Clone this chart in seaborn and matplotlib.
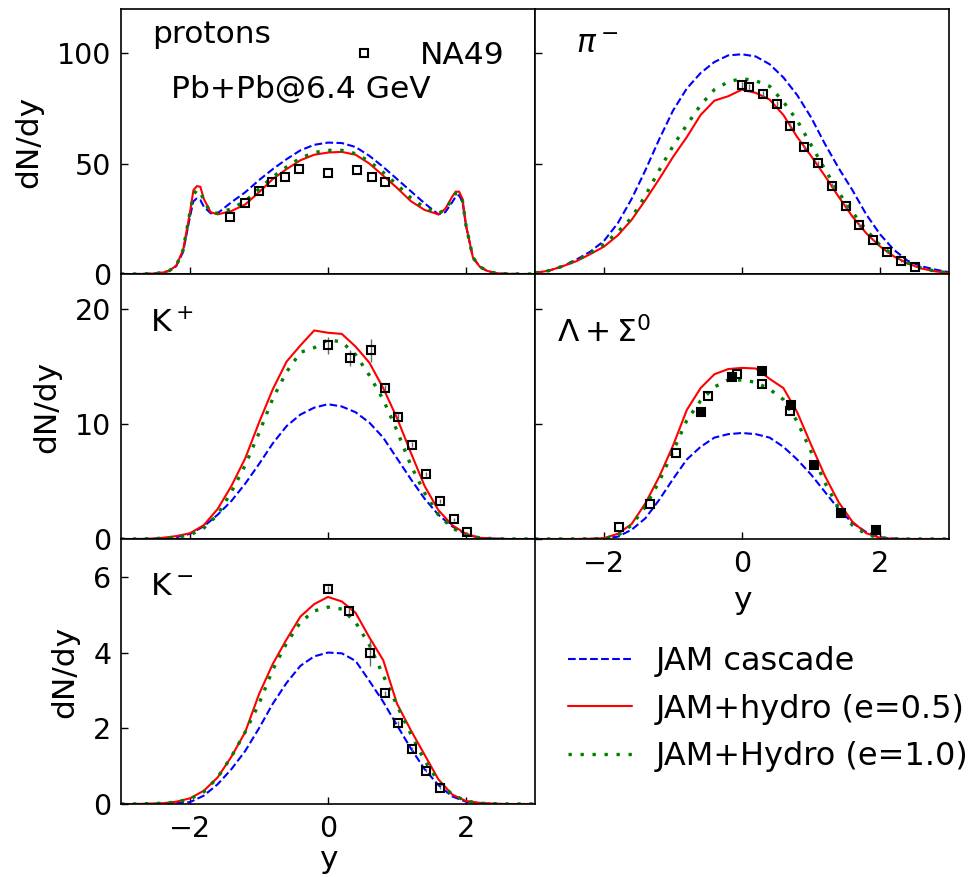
import numpy as np
import matplotlib
matplotlib.use("Agg")
import matplotlib.pyplot as plt
import seaborn as sns

# ---------------- data ----------------
Y31 = [-3.0, -2.8, -2.6, -2.4, -2.2, -2.0, -1.8, -1.6, -1.4, -1.2, -1.0, -0.8, -0.6, -0.4, -0.2,
       0.0, 0.2, 0.4, 0.6, 0.8, 1.0, 1.2, 1.4, 1.6, 1.8, 2.0, 2.2, 2.4, 2.6, 2.8, 3.0]

YP = [-3.0, -2.8, -2.6, -2.5, -2.4, -2.3, -2.2, -2.1, -2.0, -1.95, -1.9, -1.85, -1.8, -1.7, -1.6,
      -1.4, -1.2, -1.0, -0.8, -0.6, -0.4, -0.2, 0.0, 0.2, 0.4, 0.6, 0.8, 1.0, 1.2, 1.4,
      1.6, 1.7, 1.8, 1.85, 1.9, 1.95, 2.0, 2.1, 2.2, 2.3, 2.4, 2.5, 2.6, 2.8, 3.0]

# protons
p_cascade = [0, 0, 0.1, 0.3, 0.6, 1.4, 3.5, 10, 26, 33,
             34.2, 33.5, 30.5, 27.5, 27.5, 32.5, 37, 42.5, 47.5, 52,
             56, 58.5, 59.5, 59.3, 57.5, 53.5, 48.5, 43, 37.5, 32,
             27, 28, 32.5, 35, 35.7, 32.5, 22, 7.5, 3.3, 1.5,
             0.6, 0.2, 0.1, 0, 0]
p_hydro05 = [0, 0, 0.1, 0.3, 0.6, 1.5, 3.8, 10.9, 28, 38,
             39.8, 39.5, 34, 28, 27, 28.5, 31.5, 37, 43, 47.5,
             51.5, 54, 55, 55.3, 54, 50, 44.5, 39, 33, 29,
             27, 29.5, 35, 37.3, 37.3, 34, 22, 7.5, 3.3, 1.5,
             0.6, 0.2, 0.1, 0, 0]
p_hydro10 = [0, 0, 0.1, 0.3, 0.6, 1.5, 3.8, 10.9, 28, 36,
             38, 37.5, 33, 28, 27.5, 29.5, 33, 38.5, 44, 48.5,
             52.5, 55, 56, 56, 54.5, 51, 46, 40.5, 34.5, 30,
             27.5, 29, 34, 36.5, 36.5, 33, 22, 7.5, 3.3, 1.5,
             0.6, 0.2, 0.1, 0, 0]
p_data_y = [-1.42, -1.21, -1.0, -0.81, -0.62, -0.42, 0.0, 0.42, 0.64, 0.83]
p_data = [26, 32, 37.6, 41.8, 44, 47.4, 45.8, 47.1, 44, 41.8]

# pi-
pi_cascade = [0.5, 1.5, 3.5, 6.5, 10.1, 15, 23, 34, 47, 61, 74, 84, 91, 96, 99, 99.5,
              98.5, 95, 89, 81, 71, 59, 48, 38, 27, 18, 11, 6, 3.5, 2, 0.8]
pi_hydro05 = [0.5, 1.5, 3.5, 5.8, 9, 12.4, 17.5, 24.5, 33.5, 43, 53, 62, 72, 78.5, 80.5, 83.5,
              82, 79, 72, 62, 53.5, 44.5, 35, 26, 18.5, 12.5, 8, 4.8, 2.5, 1.2, 0.4]
pi_hydro10 = [0.5, 1.5, 3.5, 6.3, 9.4, 13.5, 19, 25.5, 35.5, 47, 58, 67.5, 76.5, 83.5, 87, 88.5,
              87.5, 85, 78, 69.5, 58.5, 47.5, 37, 28, 20, 13, 8.3, 5, 2.7, 1.3, 0.5]
pi_data_y = [0.0, 0.1, 0.3, 0.5, 0.7, 0.9, 1.1, 1.3, 1.5, 1.7, 1.9, 2.1, 2.3, 2.5]
pi_data = [85.4, 84.5, 81.3, 76.9, 67.1, 57.3, 50.2, 40.0, 30.9, 22.2, 15.4, 9.8, 6.0, 3.3]
pi_err = [1.5, 1.5, 1.5, 1.5, 1.3, 1.2, 1.1, 1.0, 0.9, 0.7, 0.6, 0.5, 0.4, 0.3]

# K+
kp_cascade = [0, 0, 0, 0.05, 0.15, 0.45, 1.1, 2.1, 3.3, 4.8, 6.5, 8.3, 9.8, 10.8, 11.4, 11.7,
              11.5, 11.0, 10.1, 8.8, 7.0, 5.2, 3.5, 2.1, 1.1, 0.4, 0.1, 0.03, 0, 0, 0]
kp_hydro05 = [0, 0, 0.02, 0.1, 0.25, 0.5, 1.2, 2.6, 4.6, 7.0, 10.1, 13.0, 15.4, 16.8, 18.1, 17.9,
              17.8, 16.7, 15.3, 13.1, 10.5, 7.5, 4.6, 2.5, 1.2, 0.45, 0.1, 0.03, 0, 0, 0]
kp_hydro10 = [0, 0, 0.02, 0.07, 0.15, 0.35, 0.95, 2.1, 4.1, 6.4, 9.2, 12.2, 14.5, 16.2, 16.6, 17.3,
              17.1, 16.0, 14.2, 12.1, 9.4, 6.4, 4.0, 2.1, 0.95, 0.35, 0.1, 0.03, 0, 0, 0]
kp_data_y = [0.0, 0.32, 0.62, 0.83, 1.02, 1.22, 1.42, 1.62, 1.82, 2.02]
kp_data = [16.8, 15.7, 16.4, 13.1, 10.6, 8.2, 5.65, 3.3, 1.7, 0.58]
kp_err = [0.7, 0.7, 1.0, 0.3, 0.3, 0.25, 0.2, 0.15, 0.1, 0.05]

# Lambda + Sigma0
lam_cascade = [0, 0, 0, 0, 0.01, 0.05, 0.2, 0.8, 1.8, 3.4, 5.2, 6.9, 8.0, 8.8, 9.1, 9.2,
               9.1, 8.8, 8.0, 6.9, 5.6, 4.1, 2.6, 1.4, 0.6, 0.15, 0.03, 0, 0, 0, 0]
lam_hydro05 = [0, 0, 0, 0, 0.02, 0.07, 0.45, 1.3, 3.1, 5.4, 8.1, 11.2, 13.1, 14.3, 14.75, 14.85,
               14.8, 13.9, 13.1, 11.0, 8.2, 5.5, 3.2, 1.5, 0.5, 0.1, 0.02, 0, 0, 0, 0]
lam_hydro10 = [0, 0, 0, 0, 0.01, 0.05, 0.3, 1.2, 2.8, 5.0, 7.6, 10.3, 12.0, 13.2, 13.8, 13.8,
               13.6, 13.0, 12.1, 10.2, 7.6, 4.9, 2.7, 1.2, 0.4, 0.1, 0.02, 0, 0, 0, 0]
lam_open_y = [-1.78, -1.33, -0.96, -0.50, -0.07, 0.29, 0.70]
lam_open = [1.0, 3.0, 7.5, 12.4, 14.35, 13.45, 11.07]
lam_full_y = [-0.59, -0.14, 0.29, 0.71, 1.04, 1.44, 1.94]
lam_full = [11.0, 14.1, 14.6, 11.65, 6.4, 2.3, 0.8]

# K-
km_cascade = [0, 0, 0, 0.01, 0.02, 0.05, 0.22, 0.52, 0.92, 1.4, 2.0, 2.65, 3.2, 3.65, 3.9, 4.0,
              3.98, 3.78, 3.25, 2.7, 2.08, 1.47, 0.92, 0.5, 0.2, 0.06, 0.02, 0, 0, 0, 0]
km_hydro05 = [0, 0, 0.01, 0.02, 0.06, 0.15, 0.35, 0.7, 1.25, 1.9, 2.9, 3.7, 4.35, 4.95, 5.28, 5.47,
              5.35, 5.05, 4.4, 3.8, 2.65, 1.95, 1.3, 0.65, 0.25, 0.08, 0.03, 0.01, 0, 0, 0]
km_hydro10 = [0, 0, 0.01, 0.02, 0.05, 0.13, 0.32, 0.7, 1.25, 1.9, 2.65, 3.55, 4.25, 4.8, 5.1, 5.2,
              5.15, 4.8, 4.2, 3.4, 2.6, 1.85, 1.15, 0.6, 0.25, 0.08, 0.02, 0.01, 0, 0, 0]
km_data_y = [0.0, 0.30, 0.61, 0.82, 1.02, 1.22, 1.42, 1.62]
km_data = [5.69, 5.11, 3.99, 2.92, 2.13, 1.45, 0.88, 0.43]
km_err = [0.08, 0.08, 0.35, 0.07, 0.06, 0.05, 0.04, 0.03]

model_labels = ["JAM cascade", "JAM+hydro (e=0.5)", "JAM+Hydro (e=1.0)"]
data_label = "NA49"
xticks = [-2, 0, 2]

# ---------------- style ----------------
sns.set_theme(style="white")
plt.rcParams["font.family"] = ["DejaVu Sans"]
plt.rcParams["mathtext.fontset"] = "dejavusans"
for key in ["text.color", "axes.labelcolor", "xtick.color", "ytick.color", "axes.edgecolor"]:
    plt.rcParams[key] = "black"

TICK_FS = 20.5
TEXT_FS = 22.5
LEG_FS = 23

fig = plt.figure(figsize=(9.71, 8.77), dpi=100)
gs = fig.add_gridspec(3, 2, left=121 / 971, right=949 / 971, top=1 - 9 / 877,
                      bottom=1 - 804 / 877, hspace=0, wspace=0)
ax_p = fig.add_subplot(gs[0, 0])
ax_pi = fig.add_subplot(gs[0, 1])
ax_kp = fig.add_subplot(gs[1, 0])
ax_lam = fig.add_subplot(gs[1, 1])
ax_km = fig.add_subplot(gs[2, 0])
ax_leg = fig.add_subplot(gs[2, 1])
ax_leg.axis("off")

styles = [dict(color="blue", linestyle=(0, (3.7, 1.6)), linewidth=1.5),
          dict(color="red", linestyle="-", linewidth=1.5),
          dict(color="green", linestyle=(0, (1, 2.6)), linewidth=2.4)]


def draw_models(ax, xs, series):
    for vals, st, lab in zip(series, styles, model_labels):
        sns.lineplot(x=xs, y=vals, ax=ax, legend=False, estimator=None, sort=False,
                     label=lab, **st)


def draw_data(ax, xs, ys, err=None, filled=False, label=None):
    if err is not None:
        ax.errorbar(xs, ys, yerr=err, fmt="none", ecolor="0.4", elinewidth=1.0, zorder=2.5)
    sns.lineplot(x=xs, y=ys, ax=ax, legend=False, estimator=None, sort=False,
                 marker="s", linestyle="", color="black", markersize=5.8,
                 markerfacecolor=("black" if filled else "none"),
                 markeredgecolor="black", markeredgewidth=1.5, label=label, zorder=3)


draw_models(ax_p, YP, [p_cascade, p_hydro05, p_hydro10])
draw_data(ax_p, p_data_y, p_data, label=data_label)

draw_models(ax_pi, Y31, [pi_cascade, pi_hydro05, pi_hydro10])
draw_data(ax_pi, pi_data_y, pi_data, err=pi_err)

draw_models(ax_kp, Y31, [kp_cascade, kp_hydro05, kp_hydro10])
draw_data(ax_kp, kp_data_y, kp_data, err=kp_err)

draw_models(ax_lam, Y31, [lam_cascade, lam_hydro05, lam_hydro10])
draw_data(ax_lam, lam_open_y, lam_open)
draw_data(ax_lam, lam_full_y, lam_full, filled=True)

draw_models(ax_km, Y31, [km_cascade, km_hydro05, km_hydro10])
draw_data(ax_km, km_data_y, km_data, err=km_err)

# axes limits / ticks
for ax in [ax_p, ax_pi, ax_kp, ax_lam, ax_km]:
    ax.set_xlim(-3, 3)
    ax.set_xticks(xticks)
    ax.tick_params(direction="in", length=5, width=1.0, labelsize=TICK_FS,
                   top=False, right=False, left=True, bottom=True, colors="black")
    ax.tick_params(axis="y", pad=7)
    ax.tick_params(axis="x", pad=8)
    ax.set_xlabel("")
    ax.set_ylabel("")
    for sp in ax.spines.values():
        sp.set_color("black")
        sp.set_linewidth(1.2)

for ax in [ax_p, ax_pi]:
    ax.set_ylim(0, 120)
    ax.set_yticks([0, 50, 100])
for ax in [ax_kp, ax_lam]:
    ax.set_ylim(0, 23)
    ax.set_yticks([0, 10, 20])
ax_km.set_ylim(0, 7)
ax_km.set_yticks([0, 2, 4, 6])

for ax in [ax_p, ax_pi, ax_kp]:
    ax.tick_params(labelbottom=False)
for ax in [ax_pi, ax_lam]:
    ax.tick_params(labelleft=False)

for ax in [ax_p, ax_kp, ax_km]:
    ax.set_ylabel("dN/dy", fontsize=TEXT_FS, labelpad=10, color="black")
ax_lam.set_xlabel("y", fontsize=TEXT_FS, labelpad=6, color="black")
ax_km.set_xlabel("y", fontsize=TEXT_FS, labelpad=1, color="black")

# panel annotations
tk = dict(fontsize=TEXT_FS, va="baseline", color="black")
ax_p.text(0.075, 0.872, "protons", transform=ax_p.transAxes, **tk)
ax_p.text(0.12, 0.663, "Pb+Pb@6.4 GeV", transform=ax_p.transAxes, **tk)
ax_pi.text(0.10, 0.833, r"$\pi^-$", transform=ax_pi.transAxes, **tk)
ax_kp.text(0.071, 0.782, r"K$^+$", transform=ax_kp.transAxes, **tk)
ax_lam.text(0.052, 0.741, r"$\Lambda + \Sigma^0$", transform=ax_lam.transAxes, **tk)
ax_km.text(0.07, 0.789, r"K$^-$", transform=ax_km.transAxes, **tk)

# NA49 legend inside proton panel
h, l = ax_p.get_legend_handles_labels()
na_idx = l.index(data_label)
leg1 = ax_p.legend([h[na_idx]], [l[na_idx]], loc="upper right", frameon=False,
                   fontsize=TEXT_FS, numpoints=1, bbox_to_anchor=(0.995, 0.985))
for t in leg1.get_texts():
    t.set_color("black")

# model legend in empty panel
mh = [h[l.index(m)] for m in model_labels]
leg2 = fig.legend(mh, model_labels, loc="upper left", bbox_to_anchor=(568 / 971, 1 - 646 / 877),
                  bbox_transform=fig.transFigure, frameon=False, fontsize=LEG_FS,
                  borderpad=0, borderaxespad=0, handlelength=2.0, handletextpad=0.75,
                  labelspacing=0.52)
for t in leg2.get_texts():
    t.set_color("black")

fig.savefig("out.png", dpi=100)
